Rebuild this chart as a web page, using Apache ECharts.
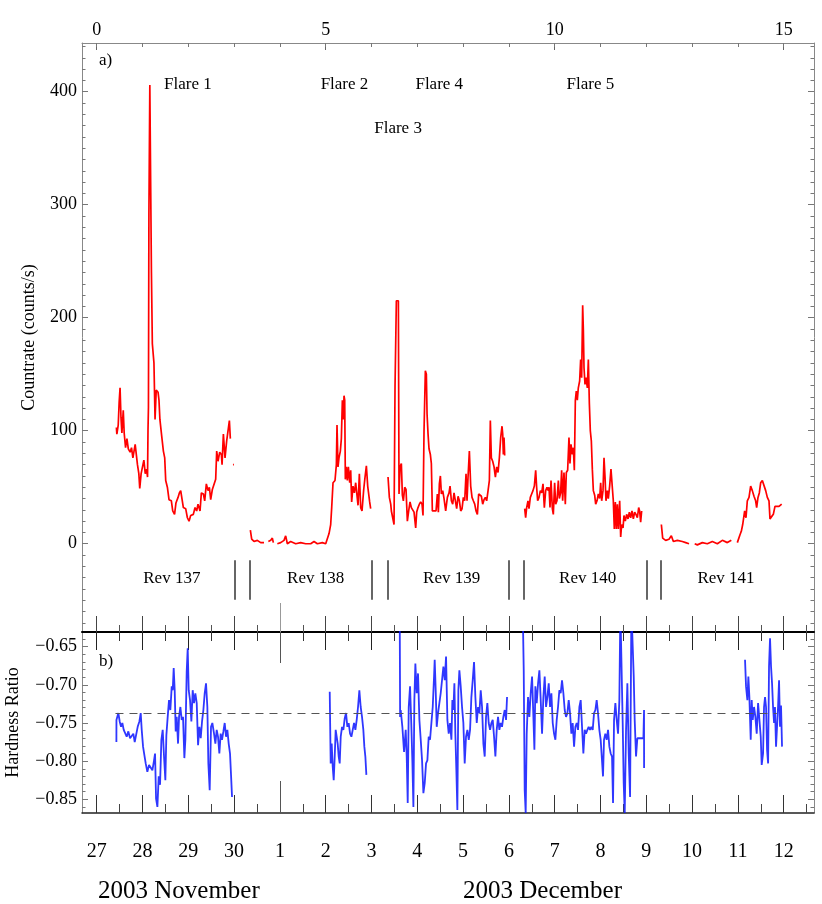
<!DOCTYPE html>
<html>
<head>
<meta charset="utf-8">
<script src="https://cdn.jsdelivr.net/npm/echarts@6/dist/echarts.min.js"></script>
<style>
  html, body { margin: 0; padding: 0; background: #fff; }
  #chart { width: 822px; height: 904px; }
</style>
</head>
<body>
<div id="chart"></div>
<script>
// light curve, days since 2003 Nov 27 0h
const rate137 = [[0.43,103],[0.44,97],[0.47,105],[0.49,125],[0.51,138],[0.53,112],[0.55,98],[0.58,118],[0.60,98],[0.63,85],[0.66,93],[0.69,84],[0.73,81],[0.76,85],[0.79,76],[0.84,88],[0.87,89],[0.89,70],[0.92,62],[0.94,49],[0.97,62],[1.01,62],[1.03,74],[1.06,62],[1.09,66],[1.11,59],[1.12,100],[1.13,121],[1.14,292],[1.155,292],[1.16,406],[1.19,406],[1.195,240],[1.215,177],[1.25,160],[1.274,110],[1.30,136],[1.34,134],[1.36,127],[1.38,110],[1.42,95],[1.456,82],[1.485,76],[1.507,56],[1.543,50],[1.579,39],[1.63,38],[1.66,29],[1.70,26],[1.73,36],[1.776,41],[1.805,45],[1.834,47],[1.87,47],[1.892,32],[1.943,31],[1.98,23],[2.016,20],[2.052,25],[2.11,26],[2.147,32],[2.183,29],[2.212,35],[2.256,29],[2.285,45],[2.329,44],[2.358,38],[2.394,53],[2.431,47],[2.46,50],[2.489,39],[2.525,48],[2.562,47],[2.598,57],[2.62,82],[2.649,73],[2.686,81],[2.722,79],[2.737,70],[2.766,97],[2.802,76],[2.838,91],[2.868,100],[2.897,109],[2.918,93],[2.95,null],[2.975,70],[2.995,70]];
const rate138 = [[3.355,12],[3.384,4],[3.435,2],[3.508,3],[3.58,1],[3.653,1],[3.70,null],[3.748,2],[3.80,3],[3.835,5],[3.857,1],[3.90,null],[3.944,0],[4.017,1],[4.09,3],[4.126,7],[4.163,0],[4.235,2],[4.345,0],[4.454,1],[4.563,0],[4.672,0],[4.745,2],[4.818,0],[4.927,1],[5.0,0],[5.036,-1],[5.073,9],[5.109,17],[5.131,32],[5.16,54],[5.203,56],[5.233,70],[5.247,105],[5.269,68],[5.29,76],[5.32,82],[5.342,93],[5.364,127],[5.386,110],[5.40,131],[5.415,127],[5.429,57],[5.451,68],[5.473,56],[5.495,68],[5.524,54],[5.546,65],[5.567,37],[5.596,51],[5.626,45],[5.655,54],[5.684,53],[5.706,34],[5.735,62],[5.764,32],[5.793,29],[5.83,48],[5.859,59],[5.888,69],[5.917,51],[5.946,50],[5.96,37],[5.982,31]];
const rate139 = [[6.361,59],[6.39,41],[6.42,35],[6.434,29],[6.47,28],[6.492,17],[6.514,140],[6.543,215],[6.587,215],[6.601,44],[6.623,68],[6.652,71],[6.674,43],[6.696,38],[6.725,50],[6.754,48],[6.783,20],[6.812,29],[6.841,37],[6.87,32],[6.90,31],[6.929,28],[6.965,14],[6.987,28],[7.016,32],[7.045,35],[7.074,37],[7.104,35],[7.125,25],[7.147,100],[7.176,153],[7.198,150],[7.213,115],[7.235,97],[7.256,84],[7.285,79],[7.307,71],[7.329,29],[7.366,28],[7.409,29],[7.438,44],[7.46,28],[7.482,53],[7.504,60],[7.526,44],[7.555,47],[7.584,40],[7.62,29],[7.657,41],[7.693,45],[7.715,51],[7.744,38],[7.773,35],[7.802,45],[7.831,44],[7.86,31],[7.89,42],[7.919,38],[7.948,29],[7.977,31],[8.006,41],[8.035,38],[8.064,62],[8.086,38],[8.108,59],[8.137,82],[8.166,51],[8.195,41],[8.224,38],[8.254,35],[8.283,29],[8.312,26],[8.34,44],[8.37,45],[8.40,42],[8.428,35],[8.457,39],[8.486,41],[8.515,38],[8.545,47],[8.574,56],[8.595,109],[8.617,76],[8.646,73],[8.676,68],[8.705,59],[8.734,68],[8.763,63],[8.792,76],[8.821,94],[8.85,104],[8.865,97],[8.879,79],[8.894,94],[8.908,78],[8.93,null],[8.945,71],[8.96,71]];
const rate140 = [[9.345,31],[9.366,23],[9.388,32],[9.417,38],[9.439,31],[9.468,41],[9.497,44],[9.526,47],[9.556,51],[9.585,65],[9.606,50],[9.628,38],[9.658,41],[9.687,47],[9.716,45],[9.745,53],[9.774,32],[9.803,47],[9.832,50],[9.861,47],[9.876,50],[9.898,32],[9.92,56],[9.949,31],[9.97,26],[9.999,54],[10.021,35],[10.05,38],[10.08,56],[10.101,40],[10.13,45],[10.152,65],[10.174,38],[10.203,63],[10.232,35],[10.254,63],[10.283,65],[10.312,94],[10.334,71],[10.356,88],[10.385,79],[10.407,85],[10.429,65],[10.451,127],[10.472,135],[10.494,127],[10.516,138],[10.545,144],[10.567,163],[10.589,147],[10.611,211],[10.626,189],[10.64,156],[10.662,141],[10.684,147],[10.713,138],[10.735,163],[10.757,124],[10.778,100],[10.80,91],[10.822,66],[10.844,47],[10.873,43],[10.895,35],[10.924,38],[10.953,44],[10.982,40],[11.004,54],[11.026,38],[11.055,47],[11.077,76],[11.099,59],[11.12,38],[11.15,47],[11.171,40],[11.20,51],[11.229,66],[11.258,50],[11.28,38],[11.302,13],[11.324,37],[11.346,13],[11.368,35],[11.39,13],[11.419,38],[11.441,6],[11.462,17],[11.492,14],[11.513,25],[11.542,20],[11.571,26],[11.601,22],[11.63,28],[11.659,23],[11.688,29],[11.717,22],[11.746,28],[11.775,26],[11.805,23],[11.834,32],[11.855,29],[11.877,19],[11.899,29],[11.93,null],[11.95,27],[11.965,27]];
const rate141 = [[12.329,17],[12.358,5],[12.423,3],[12.496,4],[12.547,7],[12.591,2],[12.678,3],[12.787,2],[12.86,1],[12.933,0],[12.99,null],[13.057,0],[13.115,-1],[13.224,1],[13.333,0],[13.442,2],[13.552,0],[13.661,3],[13.77,1],[13.857,3],[13.92,null],[13.988,1],[14.046,8],[14.075,11],[14.105,17],[14.148,29],[14.177,23],[14.206,38],[14.243,41],[14.279,51],[14.315,47],[14.352,42],[14.388,38],[14.41,32],[14.439,41],[14.468,45],[14.498,54],[14.534,56],[14.57,57],[14.607,47],[14.643,41],[14.679,38],[14.701,22],[14.738,22],[14.774,26],[14.81,33],[14.847,32],[14.898,33],[14.956,35]];

// hardness ratio
const hr137 = [[0.43,-0.775],[0.431,-0.746],[0.473,-0.737],[0.502,-0.748],[0.531,-0.755],[0.56,-0.75],[0.59,-0.759],[0.619,-0.757],[0.655,-0.768],[0.691,-0.761],[0.728,-0.77],[0.764,-0.768],[0.80,-0.764],[0.83,-0.775],[0.866,-0.764],[0.895,-0.755],[0.932,-0.748],[0.961,-0.737],[0.983,-0.759],[1.012,-0.781],[1.041,-0.792],[1.07,-0.803],[1.106,-0.814],[1.143,-0.805],[1.179,-0.807],[1.216,-0.812],[1.252,-0.799],[1.274,-0.79],[1.296,-0.849],[1.325,-0.86],[1.354,-0.82],[1.383,-0.831],[1.412,-0.772],[1.441,-0.759],[1.47,-0.794],[1.499,-0.825],[1.521,-0.766],[1.55,-0.742],[1.579,-0.72],[1.608,-0.733],[1.638,-0.702],[1.66,-0.707],[1.681,-0.678],[1.703,-0.707],[1.725,-0.761],[1.747,-0.742],[1.776,-0.777],[1.798,-0.742],[1.827,-0.729],[1.856,-0.746],[1.885,-0.742],[1.914,-0.796],[1.936,-0.772],[1.965,-0.683],[1.987,-0.652],[2.009,-0.707],[2.038,-0.72],[2.067,-0.748],[2.096,-0.707],[2.125,-0.724],[2.154,-0.711],[2.184,-0.724],[2.213,-0.779],[2.242,-0.755],[2.271,-0.77],[2.30,-0.748],[2.329,-0.733],[2.358,-0.711],[2.387,-0.698],[2.416,-0.729],[2.438,-0.803],[2.467,-0.838],[2.496,-0.755],[2.525,-0.75],[2.562,-0.764],[2.591,-0.777],[2.62,-0.759],[2.649,-0.768],[2.678,-0.79],[2.707,-0.764],[2.736,-0.772],[2.766,-0.761],[2.795,-0.75],[2.824,-0.768],[2.853,-0.759],[2.882,-0.777],[2.911,-0.79],[2.933,-0.818],[2.955,-0.847]];
const hr138 = [[5.088,-0.709],[5.109,-0.803],[5.131,-0.777],[5.153,-0.807],[5.175,-0.825],[5.197,-0.794],[5.218,-0.759],[5.24,-0.768],[5.262,-0.777],[5.284,-0.794],[5.306,-0.803],[5.328,-0.768],[5.357,-0.755],[5.386,-0.759],[5.415,-0.744],[5.444,-0.737],[5.473,-0.755],[5.502,-0.75],[5.532,-0.764],[5.561,-0.768],[5.59,-0.759],[5.619,-0.75],[5.648,-0.759],[5.677,-0.746],[5.706,-0.729],[5.735,-0.707],[5.764,-0.729],[5.793,-0.742],[5.822,-0.759],[5.844,-0.781],[5.866,-0.794],[5.888,-0.818]];
const hr139 = [[6.616,-0.60],[6.625,-0.742],[6.638,-0.733],[6.674,-0.755],[6.711,-0.788],[6.747,-0.759],[6.769,-0.794],[6.791,-0.855],[6.813,-0.729],[6.842,-0.702],[6.871,-0.755],[6.893,-0.801],[6.915,-0.86],[6.936,-0.72],[6.958,-0.672],[6.987,-0.711],[7.016,-0.685],[7.046,-0.746],[7.075,-0.772],[7.104,-0.799],[7.133,-0.842],[7.162,-0.829],[7.191,-0.803],[7.22,-0.799],[7.249,-0.768],[7.278,-0.772],[7.308,-0.75],[7.337,-0.729],[7.366,-0.689],[7.38,-0.667],[7.402,-0.707],[7.424,-0.755],[7.453,-0.737],[7.482,-0.724],[7.511,-0.711],[7.54,-0.694],[7.57,-0.676],[7.599,-0.694],[7.628,-0.663],[7.657,-0.746],[7.686,-0.764],[7.715,-0.75],[7.745,-0.772],[7.766,-0.72],[7.788,-0.733],[7.81,-0.698],[7.831,-0.764],[7.853,-0.812],[7.875,-0.864],[7.897,-0.707],[7.919,-0.681],[7.948,-0.702],[7.977,-0.729],[8.006,-0.75],[8.035,-0.803],[8.064,-0.768],[8.094,-0.759],[8.123,-0.772],[8.152,-0.759],[8.181,-0.716],[8.21,-0.694],[8.239,-0.67],[8.268,-0.716],[8.298,-0.75],[8.327,-0.729],[8.356,-0.737],[8.385,-0.707],[8.414,-0.729],[8.443,-0.777],[8.472,-0.794],[8.501,-0.742],[8.53,-0.724],[8.559,-0.75],[8.589,-0.759],[8.618,-0.75],[8.647,-0.746],[8.676,-0.768],[8.705,-0.794],[8.734,-0.759],[8.763,-0.742],[8.792,-0.759],[8.821,-0.75],[8.85,-0.755],[8.879,-0.742],[8.909,-0.733],[8.938,-0.746],[8.96,-0.716]];
const hr140 = [[9.302,-0.60],[9.324,-0.681],[9.345,-0.838],[9.367,-0.868],[9.389,-0.764],[9.418,-0.716],[9.447,-0.742],[9.476,-0.711],[9.506,-0.689],[9.535,-0.742],[9.557,-0.785],[9.578,-0.702],[9.607,-0.724],[9.637,-0.698],[9.666,-0.681],[9.695,-0.72],[9.724,-0.764],[9.753,-0.716],[9.782,-0.689],[9.811,-0.729],[9.84,-0.716],[9.87,-0.698],[9.899,-0.729],[9.928,-0.711],[9.957,-0.75],[9.986,-0.764],[10.015,-0.772],[10.044,-0.746],[10.073,-0.729],[10.102,-0.707],[10.131,-0.711],[10.16,-0.694],[10.19,-0.711],[10.219,-0.733],[10.248,-0.742],[10.277,-0.737],[10.306,-0.72],[10.335,-0.737],[10.364,-0.764],[10.393,-0.75],[10.423,-0.781],[10.452,-0.755],[10.481,-0.75],[10.51,-0.759],[10.539,-0.729],[10.568,-0.72],[10.597,-0.755],[10.626,-0.79],[10.655,-0.759],[10.684,-0.764],[10.713,-0.759],[10.742,-0.755],[10.771,-0.759],[10.80,-0.755],[10.83,-0.759],[10.859,-0.737],[10.888,-0.733],[10.917,-0.72],[10.946,-0.737],[10.975,-0.759],[11.004,-0.772],[11.033,-0.799],[11.055,-0.82],[11.077,-0.772],[11.106,-0.764],[11.135,-0.772],[11.165,-0.759],[11.194,-0.781],[11.223,-0.79],[11.252,-0.794],[11.274,-0.855],[11.296,-0.746],[11.325,-0.724],[11.354,-0.746],[11.383,-0.764],[11.412,-0.72],[11.434,-0.60],[11.463,-0.60],[11.485,-0.75],[11.507,-0.829],[11.529,-0.868],[11.558,-0.759],[11.587,-0.698],[11.616,-0.79],[11.646,-0.847],[11.675,-0.60],[11.704,-0.60],[11.726,-0.689],[11.747,-0.746],[11.776,-0.794],[11.805,-0.77],[11.842,-0.77],[11.878,-0.77],[11.937,-0.77],[11.951,-0.733],[11.952,-0.809]];
const hr141 = [[14.156,-0.667],[14.178,-0.702],[14.207,-0.72],[14.229,-0.689],[14.251,-0.716],[14.28,-0.772],[14.302,-0.72],[14.324,-0.746],[14.353,-0.729],[14.382,-0.742],[14.411,-0.764],[14.441,-0.724],[14.47,-0.746],[14.499,-0.768],[14.52,-0.805],[14.55,-0.79],[14.571,-0.729],[14.593,-0.716],[14.615,-0.729],[14.637,-0.785],[14.66,-0.803],[14.68,-0.676],[14.702,-0.639],[14.724,-0.676],[14.746,-0.698],[14.768,-0.729],[14.79,-0.75],[14.81,-0.729],[14.833,-0.781],[14.855,-0.755],[14.877,-0.729],[14.899,-0.694],[14.92,-0.755],[14.942,-0.727],[14.964,-0.781]];
const HR_MEAN = -0.737;
const hrMeanSpan = [0.41, 14.85];

// annotations
const flareNames = ['Flare 1', 'Flare 2', 'Flare 3', 'Flare 4', 'Flare 5'];
const flareDays = [1.99, 5.41, 6.58, 7.48, 10.78];
const flareLevels = [406, 406, 367, 406, 406];
const revNames = ['Rev 137', 'Rev 138', 'Rev 139', 'Rev 140', 'Rev 141'];
const revDays = [1.64, 4.78, 7.75, 10.72, 13.74];
const REV_LEVEL = -31;
const revBounds = [3.004, 3.332, 6.004, 6.345, 8.996, 9.323, 12.0, 12.306];
const REV_TOP = -14.5, REV_BOTTOM = -49.5;

// ticks and labels
const topTicks = [0, 5, 10, 15];
const dayTicks = [0, 1, 2, 3, 4, 5, 6, 7, 8, 9, 10, 11, 12, 13, 14, 15];
const halfDayTicks = dayTicks.map(d => d + 0.5);
const monthTick = [4];   // 2003 Dec 1
const dateLabels = ['27', '28', '29', '30', '1', '2', '3', '4', '5', '6', '7', '8', '9', '10', '11', '12'];
const rateTicks = [0, 100, 200, 300, 400];
const hrTicks = [-0.85, -0.80, -0.75, -0.70, -0.65];

const rateMinor = [];
for (let v = -70; v <= 440; v += 10) rateMinor.push(v);
const hrMinor = [];
for (let i = -86; i <= -64; i++) hrMinor.push(i / 100);

const FONT = "'Liberation Serif', 'Times New Roman', serif";
const X_MIN = -0.321, X_MAX = 15.662;
const Y1_MIN = -78.1, Y1_MAX = 443.1;
const Y2_MIN = -0.868, Y2_MAX = -0.6307;

function xAx(grid, pos, ticks, len, tickColor, line, label) {
  return {
    type: 'value', gridIndex: grid, position: pos, min: X_MIN, max: X_MAX,
    axisLine: line ? { show: true, onZero: false, lineStyle: line } : { show: false, onZero: false },
    axisTick: { show: true, inside: true, length: len, customValues: ticks, lineStyle: { color: tickColor, width: 1 } },
    axisLabel: label || { show: false },
    splitLine: { show: false }
  };
}

function yAx(grid, pos, min, max, ticks, len, line, label, name) {
  const ax = {
    type: 'value', gridIndex: grid, position: pos, min: min, max: max,
    axisLine: line ? { show: true, onZero: false, lineStyle: line } : { show: false, onZero: false },
    axisTick: { show: true, inside: true, length: len, customValues: ticks, lineStyle: { color: '#777', width: 1 } },
    axisLabel: label || { show: false },
    splitLine: { show: false }
  };
  if (name) Object.assign(ax, name);
  return ax;
}

const greyLine = { color: '#888', width: 1 };
const noteLabel = { show: true, position: 'inside', fontSize: 17, color: '#000', fontFamily: FONT,
  opacity: 1, textBorderWidth: 0, textShadowBlur: 0 };

const chart = echarts.init(document.getElementById('chart'), null, { renderer: 'canvas' });

const rateSeries = [rate137, rate138, rate139, rate140, rate141].map(d => ({
  type: 'line', xAxisIndex: 0, yAxisIndex: 0, data: d,
  symbol: 'none', connectNulls: false,
  lineStyle: { color: '#ff0000', width: 1.7 }, z: 3
}));

const hrSeries = [hr137, hr138, hr139, hr140, hr141].map(d => ({
  type: 'line', xAxisIndex: 8, yAxisIndex: 4, data: d,
  symbol: 'none', connectNulls: false,
  lineStyle: { color: 'rgba(10,20,255,0.85)', width: 1.8 }, z: 3
}));

const option = {
  animation: false,
  backgroundColor: '#fff',
  textStyle: { fontFamily: FONT },
  grid: [
    { left: 82, top: 43, width: 732, height: 589, containLabel: false, outerBoundsMode: 'none' },
    { left: 82, top: 632, width: 732, height: 181, containLabel: false, outerBoundsMode: 'none' }
  ],
  xAxis: [
    xAx(0, 'top', topTicks, 7, '#666', greyLine,
      { show: true, customValues: topTicks, margin: 4, fontSize: 18, color: '#000', fontFamily: FONT }),
    xAx(0, 'top', dayTicks, 4, '#777'),
    xAx(0, 'bottom', dayTicks, 16, '#444'),
    xAx(0, 'bottom', halfDayTicks, 7, '#555'),
    xAx(0, 'bottom', monthTick, 29, '#999'),
    xAx(1, 'top', dayTicks, 18, '#222', { color: '#000', width: 2 }),
    xAx(1, 'top', halfDayTicks, 9, '#333'),
    xAx(1, 'top', monthTick, 31, '#555'),
    xAx(1, 'bottom', dayTicks, 18, '#333', { color: '#222', width: 1.5 },
      { show: true, customValues: dayTicks, margin: 29, fontSize: 20, color: '#000', fontFamily: FONT,
        formatter: v => dateLabels[Math.round(v)] }),
    xAx(1, 'bottom', halfDayTicks, 9, '#444'),
    xAx(1, 'bottom', monthTick, 32, '#555')
  ],
  yAxis: [
    yAx(0, 'left', Y1_MIN, Y1_MAX, rateTicks, 6, greyLine,
      { show: true, customValues: rateTicks, margin: 5, fontSize: 18, color: '#000', fontFamily: FONT },
      { name: 'Countrate (counts/s)', nameLocation: 'middle', nameGap: 44,
        nameTextStyle: { fontSize: 18, color: '#000', fontFamily: FONT } }),
    yAx(0, 'left', Y1_MIN, Y1_MAX, rateMinor, 3.5),
    yAx(0, 'right', Y1_MIN, Y1_MAX, rateTicks, 6, greyLine),
    yAx(0, 'right', Y1_MIN, Y1_MAX, rateMinor, 3.5),
    yAx(1, 'left', Y2_MIN, Y2_MAX, hrTicks, 6, greyLine,
      { show: true, customValues: hrTicks, margin: 5, fontSize: 18, color: '#000', fontFamily: FONT,
        formatter: v => '\u2212' + Math.abs(v).toFixed(2) },
      { name: 'Hardness Ratio', nameLocation: 'middle', nameGap: 60,
        nameTextStyle: { fontSize: 18, color: '#000', fontFamily: FONT } }),
    yAx(1, 'left', Y2_MIN, Y2_MAX, hrMinor, 3.5),
    yAx(1, 'right', Y2_MIN, Y2_MAX, hrTicks, 6, greyLine),
    yAx(1, 'right', Y2_MIN, Y2_MAX, hrMinor, 3.5)
  ],
  graphic: [
    { type: 'text', left: 99, top: 52, style: { text: 'a)', fontSize: 17, fontFamily: FONT, fill: '#000' } },
    { type: 'text', left: 99, top: 653, style: { text: 'b)', fontSize: 17, fontFamily: FONT, fill: '#000' } },
    { type: 'text', left: 98, top: 879, style: { text: '2003 November', fontSize: 25, fontFamily: FONT, fill: '#000' } },
    { type: 'text', left: 463, top: 879, style: { text: '2003 December', fontSize: 25, fontFamily: FONT, fill: '#000' } }
  ],
  series: [
    {
      type: 'scatter', xAxisIndex: 0, yAxisIndex: 0, symbolSize: 1,
      itemStyle: { color: '#fff' }, silent: true, z: 5,
      data: flareDays.map((d, i) => [d, flareLevels[i]]),
      label: Object.assign({ formatter: p => flareNames[p.dataIndex] }, noteLabel)
    },
    {
      type: 'scatter', xAxisIndex: 0, yAxisIndex: 0, symbolSize: 1,
      itemStyle: { color: '#fff' }, silent: true, z: 5,
      data: revDays.map(d => [d, REV_LEVEL]),
      label: Object.assign({ formatter: p => revNames[p.dataIndex] }, noteLabel),
      markLine: {
        silent: true, symbol: 'none', label: { show: false },
        lineStyle: { color: '#333', width: 1.5, type: 'solid' },
        data: revBounds.map(d => [{ coord: [d, REV_TOP] }, { coord: [d, REV_BOTTOM] }])
      }
    },
    {
      type: 'line', xAxisIndex: 8, yAxisIndex: 4, data: [], symbol: 'none',
      markLine: {
        silent: true, symbol: 'none', label: { show: false },
        lineStyle: { color: '#555', width: 1, type: [8, 6] },
        data: [[{ coord: [hrMeanSpan[0], HR_MEAN] }, { coord: [hrMeanSpan[1], HR_MEAN] }]]
      }
    }
  ].concat(rateSeries, hrSeries)
};

chart.setOption(option);
</script>
</body>
</html>
